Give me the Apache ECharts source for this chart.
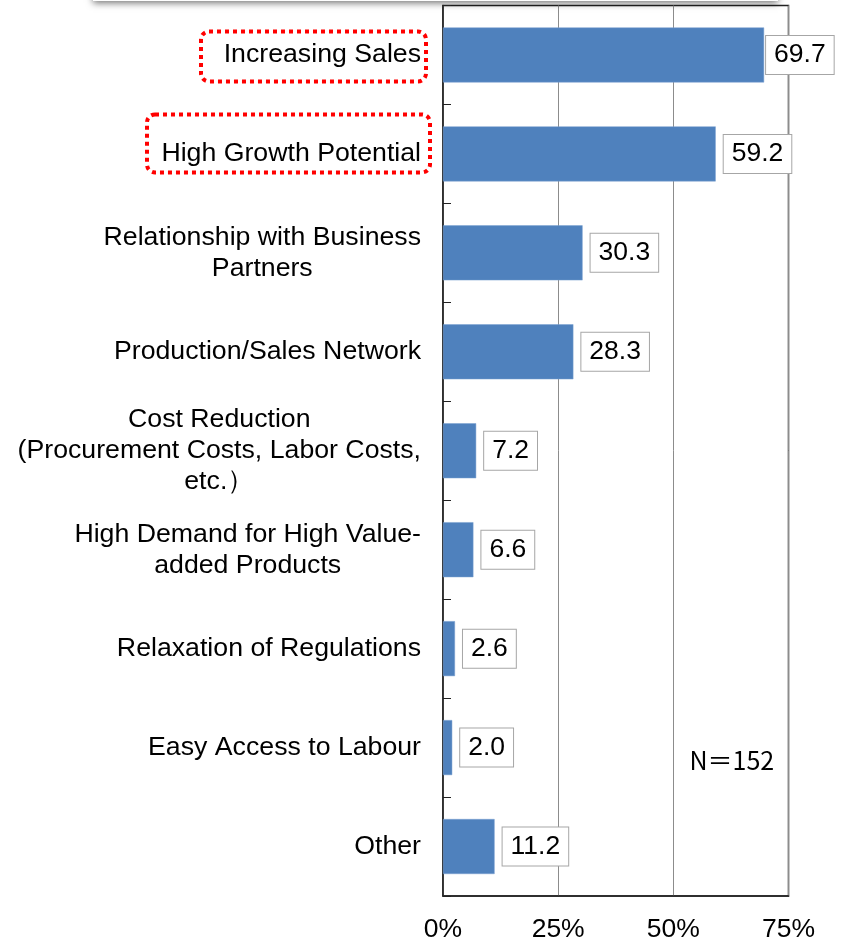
<!DOCTYPE html>
<html>
<head>
<meta charset="utf-8">
<script src="https://cdn.jsdelivr.net/npm/echarts@6/dist/echarts.min.js"></script>
<style>
html,body{margin:0;padding:0;background:#fff;}
#main{width:846px;height:939px;}
</style>
</head>
<body>
<div id="main"></div>
<script>
const categories = [
  'Increasing Sales',
  'High Growth Potential',
  'Relationship with Business\nPartners',
  'Production/Sales Network',
  'Cost Reduction\n(Procurement Costs, Labor Costs,\netc.）',
  'High Demand for High Value-\nadded Products',
  'Relaxation of Regulations',
  'Easy Access to Labour',
  'Other'
];
const values = [69.7, 59.2, 30.3, 28.3, 7.2, 6.6, 2.6, 2.0, 11.2];
const xTicks = [0, 25, 50, 75];
const highlighted = ['Increasing Sales', 'High Growth Potential'];
const noteText = 'N＝152';

const FONT = '"Liberation Sans", Arial, sans-serif';
const chart = echarts.init(document.getElementById('main'), null, {renderer: 'canvas'});

const barData = values.map((v, i) => i === 0 ? {value: v, label: {distance: 2}} : v);

chart.setOption({
  animation: false,
  backgroundColor: '#fff',
  grid: {
    left: 443, right: 57.5, top: 5.5, bottom: 43,
    containLabel: false, outerBoundsMode: 'none',
    show: true, borderColor: '#222', borderWidth: 1.5, backgroundColor: 'transparent'
  },
  xAxis: {
    type: 'value',
    min: xTicks[0], max: xTicks[xTicks.length - 1], interval: xTicks[1] - xTicks[0],
    axisLine: {show: true, lineStyle: {color: '#222', width: 1.5}},
    axisTick: {show: false},
    splitLine: {show: true, lineStyle: {color: '#8c8c8c', width: 1}},
    axisLabel: {
      formatter: '{value}%', fontSize: 26.5, color: '#000', fontFamily: FONT, margin: 20
    }
  },
  yAxis: {
    type: 'category',
    inverse: true,
    data: categories,
    axisLine: {show: true, lineStyle: {color: '#222', width: 1.5}},
    axisTick: {show: true, inside: true, length: 8, lineStyle: {color: '#222', width: 1}},
    splitLine: {show: false},
    axisLabel: {
      margin: 22,
      fontSize: 26.7, color: '#000', fontFamily: FONT, lineHeight: 31,
      formatter: function (val) {
        return val.split('\n').map(s => '{c|' + s + '}').join('\n');
      },
      rich: {
        c: {align: 'center', fontSize: 26.7, lineHeight: 31, color: '#000', fontFamily: FONT}
      }
    }
  },
  series: [{
    type: 'bar',
    data: barData,
    barWidth: 55,
    itemStyle: {color: '#4f81bd', borderColor: '#7aa0d0', borderWidth: 0.5},
    label: {
      show: true, position: 'right', distance: 8,
      formatter: p => Number(p.value).toFixed(1),
      fontSize: 26.5, color: '#000', fontFamily: FONT, lineHeight: 27,
      backgroundColor: '#fff', borderColor: '#a6a6a6', borderWidth: 1,
      padding: [6, 8, 5, 8]
    }
  }]
});

// Annotation boxes and note, positioned from the axis scales
function addGraphics() {
  const x0 = chart.convertToPixel({xAxisIndex: 0}, 0);
  const yA = chart.convertToPixel({yAxisIndex: 0}, highlighted[0]);
  const yB = chart.convertToPixel({yAxisIndex: 0}, highlighted[1]);
  const xN = chart.convertToPixel({xAxisIndex: 0}, 53.5);
  const yN = chart.convertToPixel({yAxisIndex: 0}, categories[7]);
  const dash = {stroke: '#ff0000', lineWidth: 4, lineDash: [4, 4], fill: 'none'};
  chart.setOption({
    graphic: [
      {
        type: 'rect', z: 0, silent: true,
        shape: {x: 93, y: -40, width: 685, height: 41},
        style: {fill: '#fff', shadowBlur: 7, shadowColor: 'rgba(0,0,0,0.55)', shadowOffsetY: 2}
      },
      {
        type: 'rect', z: 100, silent: true,
        shape: {x: x0 - 242, y: yA - 23.5, width: 225, height: 50, r: 8},
        style: dash
      },
      {
        type: 'rect', z: 100, silent: true,
        shape: {x: x0 - 296, y: yB - 39.5, width: 283, height: 58, r: 8},
        style: dash
      },
      {
        type: 'text', z: 100, silent: true,
        x: xN, y: yN + 13,
        style: {
          text: noteText, fill: '#000', fontSize: 25,
          fontFamily: '"Noto Sans CJK JP", sans-serif',
          align: 'left', verticalAlign: 'middle'
        }
      }
    ]
  });
}
addGraphics();
</script>
</body>
</html>
